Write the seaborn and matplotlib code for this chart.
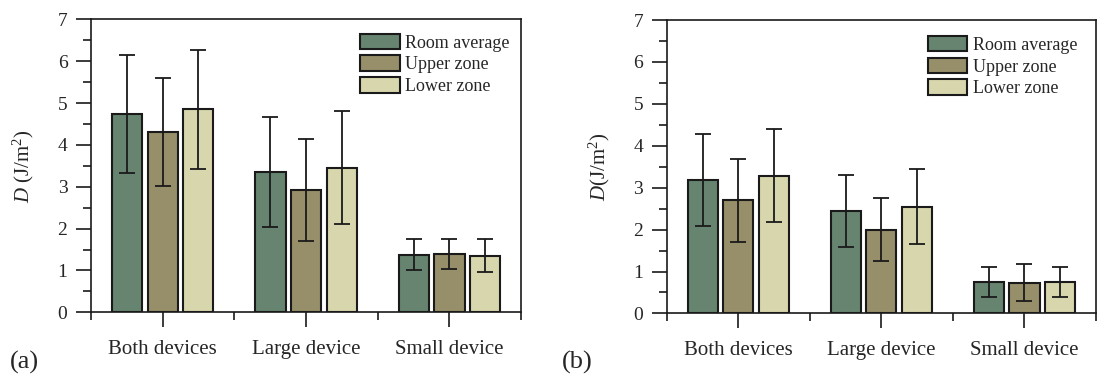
import numpy as np
import pandas as pd
import matplotlib
matplotlib.use("Agg")
import matplotlib.pyplot as plt
from matplotlib.patches import Patch
from matplotlib.ticker import MultipleLocator, FixedLocator
import seaborn as sns

categories = ["Both devices", "Large device", "Small device"]
series = ["Room average", "Upper zone", "Lower zone"]

# panel (a)
a_room = [4.74, 3.36, 1.37]
a_upper = [4.31, 2.92, 1.39]
a_lower = [4.85, 3.46, 1.35]
a_room_err = [1.42, 1.32, 0.37]
a_upper_err = [1.29, 1.22, 0.36]
a_lower_err = [1.43, 1.35, 0.39]

# panel (b)
b_room = [3.18, 2.44, 0.75]
b_upper = [2.70, 2.00, 0.73]
b_lower = [3.29, 2.55, 0.75]
b_room_err = [1.09, 0.86, 0.35]
b_upper_err = [0.99, 0.76, 0.44]
b_lower_err = [1.12, 0.89, 0.35]

colors = ["#66846F", "#978F69", "#D8D6AD"]
edge = "#1a1a1a"

sns.set_theme(style="ticks")
plt.rcParams["font.family"] = ["Liberation Serif", "DejaVu Serif"]
plt.rcParams["mathtext.fontset"] = "custom"
plt.rcParams["mathtext.rm"] = "Liberation Serif"
plt.rcParams["mathtext.it"] = "Liberation Serif:italic"

fig = plt.figure(figsize=(10.97, 3.86), dpi=100)
ax_a = fig.add_axes([0.0830, 0.191, 0.392, 0.7585])
ax_b = fig.add_axes([0.6077, 0.188, 0.3914, 0.760])


def draw(ax, vals, errs, ylabel, leg_anchor):
    rows = []
    for s, v in zip(series, vals):
        for c, y in zip(categories, v):
            rows.append({"cat": c, "series": s, "val": y})
    df = pd.DataFrame(rows)
    sns.barplot(data=df, x="cat", y="val", hue="series", order=categories,
                hue_order=series, palette=colors, width=0.745, gap=0.15,
                errorbar=None, edgecolor=edge, linewidth=1.5, saturation=1,
                legend=False, ax=ax)
    for cont, v, e in zip(ax.containers, vals, errs):
        xs = [p.get_x() + p.get_width() / 2 for p in cont.patches]
        ax.errorbar(xs, v, yerr=e, fmt="none", ecolor=edge, elinewidth=1.3,
                    capsize=5.8, capthick=1.3, zorder=5)
    ax.set_xlim(-0.5, 2.5)
    ax.set_ylim(0, 7)
    ax.yaxis.set_major_locator(MultipleLocator(1))
    ax.yaxis.set_minor_locator(MultipleLocator(0.5))
    ax.xaxis.set_minor_locator(FixedLocator([-0.5, 0.5, 1.5, 2.5]))
    ax.tick_params(axis="both", which="major", direction="out", length=11,
                   width=1.2, color=edge)
    ax.tick_params(axis="both", which="minor", direction="out", length=5.5,
                   width=1.2, color=edge)
    ax.tick_params(axis="y", which="major", labelsize=14, pad=6)
    ax.tick_params(axis="x", which="major", labelsize=15, pad=9)
    for sp in ax.spines.values():
        sp.set_visible(True)
        sp.set_linewidth(1.2)
        sp.set_color(edge)
    ax.set_xlabel("")
    ax.set_ylabel(ylabel, fontsize=15)
    ax.yaxis.set_label_coords(-0.127, 0.5)
    handles = [Patch(facecolor=c, edgecolor=edge, linewidth=1.5) for c in colors]
    ax.legend(handles, series, loc="upper left", bbox_to_anchor=leg_anchor,
              frameon=False, fontsize=13, handlelength=2.2, handleheight=0.95,
              handletextpad=0.3, labelspacing=0.2, borderpad=0,
              borderaxespad=0)


draw(ax_a, [a_room, a_upper, a_lower], [a_room_err, a_upper_err, a_lower_err],
     r"$D$ (J/m$^2$)", (0.6256, 0.951))
draw(ax_b, [b_room, b_upper, b_lower], [b_room_err, b_upper_err, b_lower_err],
     r"$D$(J/m$^2$)", (0.608, 0.946))

fig.text(0.009, 0.062, "(a)", fontsize=19, ha="left", va="center")
fig.text(0.512, 0.062, "(b)", fontsize=19, ha="left", va="center")

fig.savefig("out.png", dpi=100)
